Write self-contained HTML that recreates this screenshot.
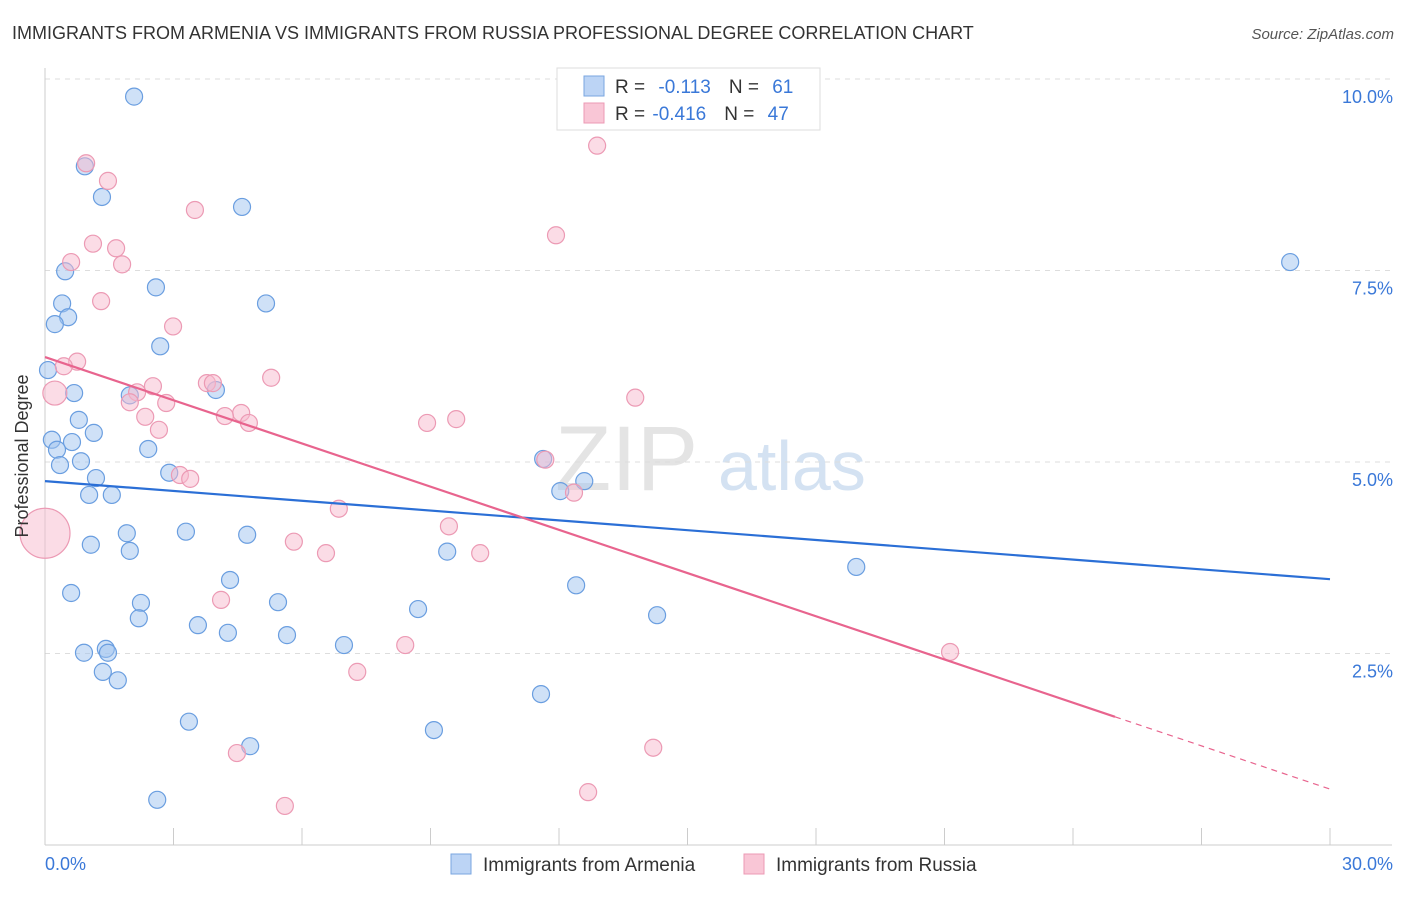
<!DOCTYPE html>
<html><head><meta charset="utf-8"><style>
body{margin:0;background:#fff;font-family:"Liberation Sans",sans-serif;}
svg text{font-family:"Liberation Sans",sans-serif;}
</style></head><body>
<svg width="1406" height="892" viewBox="0 0 1406 892" xmlns="http://www.w3.org/2000/svg">
<text x="12" y="39" font-size="18" fill="#333">IMMIGRANTS FROM ARMENIA VS IMMIGRANTS FROM RUSSIA PROFESSIONAL DEGREE CORRELATION CHART</text>
<text x="1394" y="39" font-size="15" fill="#555" font-style="italic" text-anchor="end">Source: ZipAtlas.com</text>
<g><text x="555" y="490" font-size="92" fill="#e4e4e4" font-family="Liberation Serif">ZIP</text><text x="718" y="490" font-size="70" fill="#d4e2f2">atlas</text></g>
<g id="grid"></g><g id="axes"></g><g id="pts"></g><g id="lines"></g>
<text x="28" y="456" font-size="18" fill="#333" text-anchor="middle" transform="rotate(-90 28 456)">Professional Degree</text>
<g>
<rect x="557" y="68" width="263" height="62" fill="#fff" stroke="#ddd"/>
<rect x="584" y="76" width="20" height="20" fill="#bcd4f5" stroke="#7aa6e0"/>
<rect x="584" y="103" width="20" height="20" fill="#f9c6d6" stroke="#ec9ab4"/>
<text x="615" y="93" font-size="19" fill="#333">R = <tspan fill="#3a78d8" dx="8">-0.113</tspan><tspan fill="#333" dx="18">N = </tspan><tspan fill="#3a78d8" dx="8">61</tspan></text>
<text x="615" y="120" font-size="19" fill="#333">R = <tspan fill="#3a78d8" dx="2">-0.416</tspan><tspan fill="#333" dx="18">N = </tspan><tspan fill="#3a78d8" dx="8">47</tspan></text>
</g>
<g>
<rect x="451" y="854" width="20" height="20" fill="#bcd4f5" stroke="#7aa6e0"/>
<text x="483" y="871" font-size="19" fill="#333">Immigrants from Armenia</text>
<rect x="744" y="854" width="20" height="20" fill="#f9c6d6" stroke="#ec9ab4"/>
<text x="776" y="871" font-size="19" fill="#333">Immigrants from Russia</text>
</g>
</svg>
<script>
const blueX=[2.08,0.93,1.33,4.60,0.47,2.59,0.40,5.16,0.54,0.23,2.69,0.07,0.68,1.98,3.99,0.79,1.14,0.16,0.63,0.28,2.41,0.35,0.84,2.90,1.19,11.63,12.03,12.59,1.03,1.56,1.91,3.29,4.72,1.07,1.98,9.39,4.32,12.40,18.94,29.07,0.61,2.24,5.44,8.71,2.19,14.29,3.57,4.27,5.65,6.98,1.42,0.91,1.47,1.35,1.70,11.58,3.36,9.08,4.79,2.62];
const blueY=[9.77,8.86,8.46,8.33,7.49,7.28,7.07,7.07,6.89,6.80,6.51,6.20,5.90,5.87,5.94,5.55,5.38,5.29,5.26,5.16,5.17,4.96,5.01,4.86,4.79,5.04,4.62,4.75,4.57,4.57,4.07,4.09,4.05,3.92,3.84,3.83,3.46,3.39,3.63,7.61,3.29,3.16,3.17,3.08,2.96,3.00,2.87,2.77,2.74,2.61,2.56,2.51,2.51,2.26,2.15,1.97,1.61,1.50,1.29,0.59];
const pinkX=[0.96,12.89,1.47,3.50,11.93,1.12,1.66,0.61,1.80,1.31,2.99,0.75,0.44,0.23,2.52,2.15,3.78,3.92,5.28,1.98,2.83,13.78,2.34,4.58,4.20,4.76,8.92,9.60,2.66,11.68,3.15,3.39,12.35,6.86,9.43,5.81,6.56,10.16,0.0,4.11,8.41,7.29,21.13,14.20,4.48,12.68,5.60];
const pinkY=[8.90,9.13,8.67,8.29,7.96,7.85,7.79,7.61,7.58,7.10,6.77,6.31,6.25,5.90,5.99,5.91,6.03,6.03,6.10,5.78,5.77,5.84,5.59,5.64,5.60,5.51,5.51,5.56,5.42,5.03,4.83,4.78,4.60,4.39,4.16,3.96,3.81,3.81,4.07,3.20,2.61,2.26,2.52,1.27,1.20,0.69,0.51];
const pinkBig=[13,38];
const xTicks=["0.0%","30.0%"];
const yTicks=[2.5,5.0,7.5,10.0];
const yTickLabels=["2.5%","5.0%","7.5%","10.0%"];
const blueTrend=[4.75,3.47];
const pinkTrend=[6.37,0.73];
const pinkSolidEnd=24.98;
const NS="http://www.w3.org/2000/svg";
const sx=v=>45+v/30*1285, sy=v=>845-v/2.5*191.5;
function mk(t,a,p){const e=document.createElementNS(NS,t);for(const k in a)e.setAttribute(k,a[k]);p.appendChild(e);return e;}
const grid=document.getElementById('grid'),axes=document.getElementById('axes'),pts=document.getElementById('pts'),lines=document.getElementById('lines');
yTicks.forEach((v,i)=>{
 const l=mk('line',{x1:45,x2:1392,y1:sy(v),y2:sy(v),stroke:'#ddd','stroke-dasharray':'5,5'},grid);
 
 
 const t=mk('text',{x:1393,y:sy(v)+24,'font-size':18,fill:'#3a78d8','text-anchor':'end'},axes);t.textContent=yTickLabels[i];
 
 
});
const ax=mk('line',{x1:45,x2:1392,y1:845,y2:845,stroke:'#ccc'},axes);


const ay=mk('line',{x1:45,x2:45,y1:68,y2:845,stroke:'#ccc'},axes);


for(let i=0;i<=10;i++){const tk=mk('line',{x1:sx(i*3),x2:sx(i*3),y1:828,y2:845,stroke:'#ccc'},axes);
 
 }
[[0,'start',45],[30,'end',1393]].forEach((d,i)=>{const t=mk('text',{x:d[2],y:870,'font-size':18,fill:'#3a78d8','text-anchor':d[1]},axes);t.textContent=xTicks[i];
 
 });
blueX.forEach((x,i)=>{const c=mk('circle',{cx:sx(x),cy:sy(blueY[i]),r:8.5,fill:'rgba(160,195,240,0.5)',stroke:'#6a9ee0','stroke-width':1.2},pts);
 
 });
pinkX.forEach((x,i)=>{const r=i===13?12:(i===38?25:8.5);const c=mk('circle',{cx:sx(x),cy:sy(pinkY[i]),r:r,fill:'rgba(248,185,205,0.5)',stroke:'#ec9ab4','stroke-width':1.2},pts);
 
 });
const lin=(t,x)=>t[0]+(t[1]-t[0])*x/30;
const bl=mk('line',{x1:sx(0),y1:sy(lin(blueTrend,0)),x2:sx(30),y2:sy(lin(blueTrend,30)),stroke:'#2b6fd6','stroke-width':2.2},lines);


const pl=mk('line',{x1:sx(0),y1:sy(lin(pinkTrend,0)),x2:sx(pinkSolidEnd),y2:sy(lin(pinkTrend,pinkSolidEnd)),stroke:'#e8648e','stroke-width':2.2},lines);


const pd=mk('line',{x1:sx(pinkSolidEnd),y1:sy(lin(pinkTrend,pinkSolidEnd)),x2:sx(30),y2:sy(lin(pinkTrend,30)),stroke:'#e8648e','stroke-width':1.2,'stroke-dasharray':'6,5'},lines);


</script>
</body></html>
